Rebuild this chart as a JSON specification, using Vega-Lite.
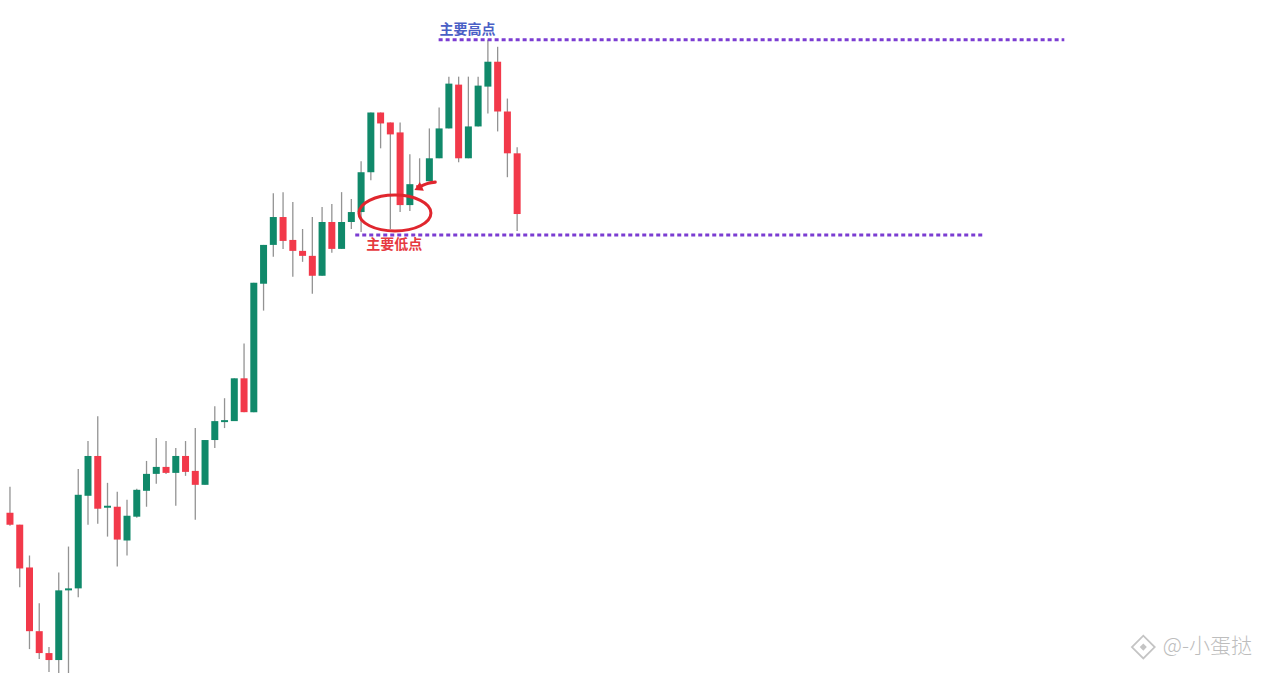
{
  "$schema": "https://vega.github.io/schema/vega-lite/v6.json",
  "width": 1279,
  "height": 674,
  "padding": 0,
  "autosize": {"type": "fit", "contains": "padding"},
  "background": "#ffffff",
  "config": {"view": {"stroke": null}},
  "datasets": {
    "candles": [
      {"i": 0, "o": 159, "h": 185, "l": 146, "c": 147},
      {"i": 1, "o": 147, "h": 147, "l": 84, "c": 103},
      {"i": 2, "o": 104, "h": 116, "l": 22, "c": 40},
      {"i": 3, "o": 40, "h": 68, "l": 12, "c": 18},
      {"i": 4, "o": 18, "h": 24, "l": -1, "c": 11},
      {"i": 5, "o": 11, "h": 99, "l": -2, "c": 81},
      {"i": 6, "o": 81, "h": 125, "l": -2, "c": 83},
      {"i": 7, "o": 83, "h": 203, "l": 74, "c": 177},
      {"i": 8, "o": 176, "h": 231, "l": 147, "c": 216},
      {"i": 9, "o": 216, "h": 256, "l": 148, "c": 163},
      {"i": 10, "o": 164, "h": 189, "l": 135, "c": 166},
      {"i": 11, "o": 165, "h": 180, "l": 105, "c": 132},
      {"i": 12, "o": 131, "h": 172, "l": 116, "c": 156},
      {"i": 13, "o": 155, "h": 183, "l": 154, "c": 182},
      {"i": 14, "o": 181, "h": 211, "l": 165, "c": 198},
      {"i": 15, "o": 198, "h": 234, "l": 188, "c": 205},
      {"i": 16, "o": 205, "h": 231, "l": 198, "c": 199},
      {"i": 17, "o": 199, "h": 224, "l": 166, "c": 216},
      {"i": 18, "o": 216, "h": 231, "l": 196, "c": 200},
      {"i": 19, "o": 201, "h": 244, "l": 152, "c": 187},
      {"i": 20, "o": 187, "h": 232, "l": 187, "c": 232},
      {"i": 21, "o": 232, "h": 266, "l": 224, "c": 251},
      {"i": 22, "o": 250, "h": 274, "l": 244, "c": 252},
      {"i": 23, "o": 251, "h": 294, "l": 251, "c": 294},
      {"i": 24, "o": 294, "h": 329, "l": 260, "c": 260},
      {"i": 25, "o": 260, "h": 390, "l": 260, "c": 390},
      {"i": 26, "o": 389, "h": 428, "l": 362, "c": 428},
      {"i": 27, "o": 428, "h": 480, "l": 416, "c": 456},
      {"i": 28, "o": 456, "h": 481, "l": 424, "c": 432},
      {"i": 29, "o": 433, "h": 471, "l": 396, "c": 422},
      {"i": 30, "o": 422, "h": 444, "l": 411, "c": 417},
      {"i": 31, "o": 417, "h": 456, "l": 379, "c": 397},
      {"i": 32, "o": 397, "h": 466, "l": 397, "c": 451},
      {"i": 33, "o": 451, "h": 469, "l": 420, "c": 424},
      {"i": 34, "o": 424, "h": 481, "l": 424, "c": 451},
      {"i": 35, "o": 451, "h": 474, "l": 444, "c": 461},
      {"i": 36, "o": 461, "h": 512, "l": 441, "c": 501},
      {"i": 37, "o": 501, "h": 561, "l": 493, "c": 561},
      {"i": 38, "o": 561, "h": 561, "l": 525, "c": 550},
      {"i": 39, "o": 551, "h": 551, "l": 444, "c": 539},
      {"i": 40, "o": 541, "h": 551, "l": 461, "c": 468},
      {"i": 41, "o": 468, "h": 519, "l": 462, "c": 489},
      {"i": 42, "o": 488, "h": 515, "l": 484, "c": 486},
      {"i": 43, "o": 492, "h": 545, "l": 492, "c": 515},
      {"i": 44, "o": 515, "h": 566, "l": 515, "c": 545},
      {"i": 45, "o": 545, "h": 597, "l": 545, "c": 590},
      {"i": 46, "o": 589, "h": 597, "l": 511, "c": 515},
      {"i": 47, "o": 515, "h": 597, "l": 515, "c": 547},
      {"i": 48, "o": 547, "h": 597, "l": 547, "c": 588},
      {"i": 49, "o": 587, "h": 634, "l": 560, "c": 612},
      {"i": 50, "o": 612, "h": 627, "l": 542, "c": 562},
      {"i": 51, "o": 562, "h": 575, "l": 496, "c": 520},
      {"i": 52, "o": 520, "h": 526, "l": 442, "c": 459}
    ],
    "levels": [
      {"name": "主要高点", "from": 43.95, "to": 108.1, "price": 634, "labelAt": 46.9, "labelPrice": 644, "kind": "high"},
      {"name": "主要低点", "from": 35.4, "to": 99.7, "price": 438, "labelAt": 39.4, "labelPrice": 428, "kind": "low"}
    ],
    "circle": [{"i": 39.47, "p": 460}],
    "arrow": [
      {"step": 0, "i": 43.6, "p": 491},
      {"step": 1, "i": 42.9, "p": 490},
      {"step": 2, "i": 42.25, "p": 487.5}
    ],
    "arrowHead": [{"i": 41.85, "p": 485}],
    "credit": [{"i": 118.2, "p": 24, "text": "@-小蛋挞", "logo": 116.2}]
  },
  "layer": [
    {
      "data": {"name": "candles"},
      "mark": {"type": "rule", "strokeWidth": 1.3, "color": "#939393"},
      "encoding": {
        "x": {"field": "i", "type": "quantitative", "scale": {"domain": [-0.51, 129.6], "nice": false, "zero": false}, "axis": null},
        "y": {"field": "l", "type": "quantitative", "scale": {"domain": [0, 674], "nice": false, "zero": false}, "axis": null},
        "y2": {"field": "h"}
      }
    },
    {
      "data": {"name": "candles"},
      "mark": {"type": "bar", "width": 7},
      "encoding": {
        "x": {"field": "i", "type": "quantitative"},
        "y": {"field": "o", "type": "quantitative"},
        "y2": {"field": "c"},
        "color": {"condition": {"test": "datum.c >= datum.o", "value": "#10896a"}, "value": "#f2394a"}
      }
    },
    {
      "data": {"name": "levels"},
      "mark": {"type": "rule", "strokeWidth": 3, "strokeDash": [4, 3], "color": "#7b3dd2"},
      "encoding": {
        "x": {"field": "from", "type": "quantitative"},
        "x2": {"field": "to"},
        "y": {"field": "price", "type": "quantitative"}
      }
    },
    {
      "data": {"name": "levels"},
      "mark": {"type": "text", "font": "Noto Sans CJK SC", "fontWeight": "bold", "fontSize": 14, "align": "center", "baseline": "middle"},
      "encoding": {
        "x": {"field": "labelAt", "type": "quantitative"},
        "y": {"field": "labelPrice", "type": "quantitative"},
        "text": {"field": "name"},
        "color": {"condition": {"test": "datum.kind === 'high'", "value": "#4a60c6"}, "value": "#e63a3f"}
      }
    },
    {
      "data": {"name": "circle"},
      "mark": {"type": "point", "shape": "M-1,0A1,0.5,0,1,0,1,0A1,0.5,0,1,0,-1,0Z", "size": 5184, "filled": false, "stroke": "#e0262e", "strokeWidth": 3, "opacity": 1},
      "encoding": {
        "x": {"field": "i", "type": "quantitative"},
        "y": {"field": "p", "type": "quantitative"}
      }
    },
    {
      "data": {"name": "arrow"},
      "mark": {"type": "line", "color": "#e0262e", "strokeWidth": 3.2, "interpolate": "monotone", "strokeCap": "round"},
      "encoding": {
        "x": {"field": "i", "type": "quantitative"},
        "y": {"field": "p", "type": "quantitative"},
        "order": {"field": "step"}
      }
    },
    {
      "data": {"name": "arrowHead"},
      "mark": {"type": "point", "shape": "triangle-left", "size": 90, "filled": true, "color": "#e0262e", "angle": -25, "opacity": 1},
      "encoding": {
        "x": {"field": "i", "type": "quantitative"},
        "y": {"field": "p", "type": "quantitative"}
      }
    },
    {
      "data": {"name": "credit"},
      "mark": {"type": "point", "shape": "diamond", "size": 520, "filled": false, "stroke": "#c4c4c4", "strokeWidth": 1.8, "opacity": 1},
      "encoding": {
        "x": {"field": "logo", "type": "quantitative"},
        "y": {"field": "p", "type": "quantitative"}
      }
    },
    {
      "data": {"name": "credit"},
      "mark": {"type": "point", "shape": "diamond", "size": 50, "filled": true, "color": "#c4c4c4", "opacity": 1},
      "encoding": {
        "x": {"field": "logo", "type": "quantitative"},
        "y": {"field": "p", "type": "quantitative"}
      }
    },
    {
      "data": {"name": "credit"},
      "mark": {"type": "text", "font": "Noto Sans CJK SC", "fontWeight": 300, "fontSize": 21, "letterSpacing": 2, "align": "left", "baseline": "middle", "color": "#bdbdbd"},
      "encoding": {
        "x": {"field": "i", "type": "quantitative"},
        "y": {"field": "p", "type": "quantitative"},
        "text": {"field": "text"}
      }
    }
  ]
}
